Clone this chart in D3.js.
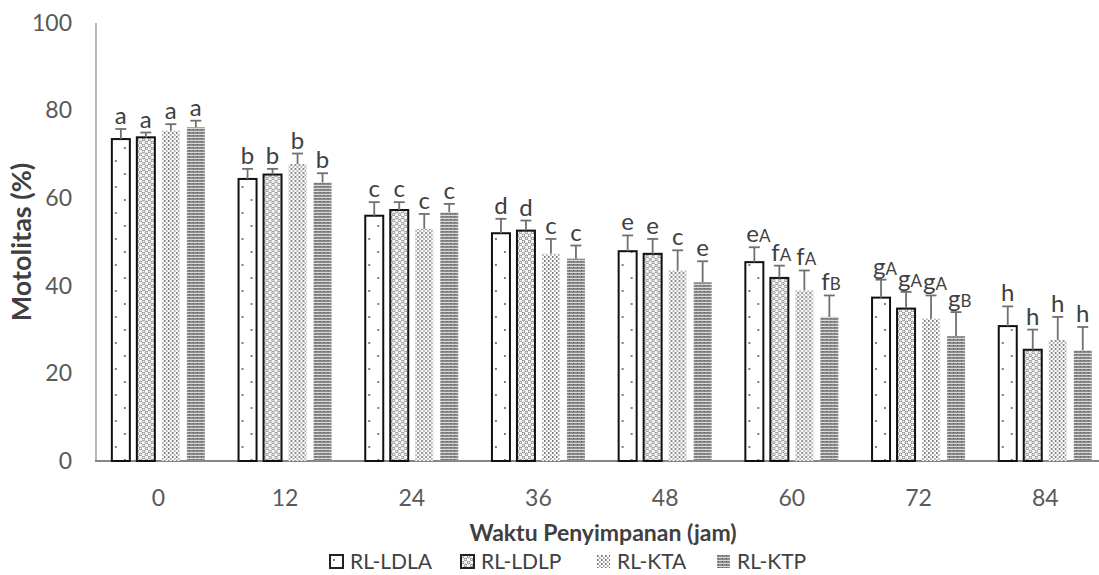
<!DOCTYPE html>
<html><head><meta charset="utf-8">
<script src="https://cdn.jsdelivr.net/npm/d3@7"></script>
<style>
html,body{margin:0;padding:0;background:#fff;}
svg{display:block;font-family:Lato,"Open Sans",sans-serif;}
</style></head>
<body><svg id="c" width="1099" height="575"></svg>
<script>
const categories = ["0","12","24","36","48","60","72","84"];
const seriesNames = ["RL-LDLA","RL-LDLP","RL-KTA","RL-KTP"];
const ldla = [73.5,64.4,56.0,52.0,47.9,45.4,37.3,30.8];
const ldlp = [73.9,65.4,57.3,52.6,47.3,41.8,34.8,25.4];
const kta  = [75.4,67.8,53.0,47.3,43.5,39.0,32.5,27.6];
const ktp  = [76.2,63.6,56.8,46.2,40.8,32.9,28.5,25.3];
const ldlaErr = [2.3,2.3,3.1,3.3,3.6,3.4,4.1,4.5];
const ldlpErr = [1.1,1.3,1.8,2.3,3.4,2.8,3.8,4.6];
const ktaErr  = [1.5,2.4,3.4,3.4,4.6,4.5,5.3,5.3];
const ktpErr  = [1.5,2.1,1.9,3.0,4.8,4.9,5.5,5.3];
const ldlaLbl = ["a","b","c","d","e","e|A","g|A","h"];
const ldlpLbl = ["a","b","c","d","e","f|A","g|A","h"];
const ktaLbl  = ["a","b","c","c","c","f|A","g|A","h"];
const ktpLbl  = ["a","b","c","c","e","f|B","g|B","h"];
const yTicks = [0,20,40,60,80,100];

const values = [ldla, ldlp, kta, ktp];
const errs = [ldlaErr, ldlpErr, ktaErr, ktpErr];
const lbls = [ldlaLbl, ldlpLbl, ktaLbl, ktpLbl];

const svg = d3.select("#c");
const defs = svg.append("defs");

// patterns
const p1 = defs.append("pattern").attr("id","pLDLA").attr("patternUnits","userSpaceOnUse").attr("width",18).attr("height",26);
p1.append("rect").attr("width",18).attr("height",26).attr("fill","#fff");
p1.append("circle").attr("cx",4).attr("cy",5).attr("r",0.9).attr("fill","#444");
p1.append("circle").attr("cx",13).attr("cy",18).attr("r",0.9).attr("fill","#444");

const p2 = defs.append("pattern").attr("id","pLDLP").attr("patternUnits","userSpaceOnUse").attr("width",6).attr("height",6);
p2.append("rect").attr("width",6).attr("height",6).attr("fill","#fff");
p2.append("circle").attr("cx",1.5).attr("cy",1.5).attr("r",1.3).attr("fill","none").attr("stroke","#555").attr("stroke-width",0.8);
p2.append("circle").attr("cx",4.5).attr("cy",4.5).attr("r",1.3).attr("fill","none").attr("stroke","#555").attr("stroke-width",0.8);

const p3 = defs.append("pattern").attr("id","pKTA").attr("patternUnits","userSpaceOnUse").attr("width",4).attr("height",4);
p3.append("rect").attr("width",4).attr("height",4).attr("fill","#fff");
p3.append("rect").attr("x",0).attr("y",0).attr("width",1.6).attr("height",2).attr("fill","#777");
p3.append("rect").attr("x",2).attr("y",2).attr("width",1.6).attr("height",2).attr("fill","#aaa");

const p4 = defs.append("pattern").attr("id","pKTP").attr("patternUnits","userSpaceOnUse").attr("width",4).attr("height",3);
p4.append("rect").attr("width",4).attr("height",3).attr("fill","#8c8c8c");
p4.append("rect").attr("x",0).attr("y",2).attr("width",4).attr("height",1).attr("fill","#d9d9d9");
p4.append("rect").attr("x",1).attr("y",0).attr("width",1).attr("height",1).attr("fill","#555");

const fills = ["url(#pLDLA)","url(#pLDLP)","url(#pKTA)","url(#pKTP)"];
const strokes = ["#111","#111","none","none"];

const x0 = d3.scaleBand().domain(categories).range([95, 95+8*126.7]).paddingInner(0.266).paddingOuter(0.133);
const x1 = d3.scaleBand().domain(seriesNames).range([0, x0.bandwidth()]).paddingInner(0.28).paddingOuter(0);
const y = d3.scaleLinear().domain([0,100]).range([461,23]);

// axes
const yAxis = svg.append("g").attr("transform","translate(96,0)").call(d3.axisLeft(y).tickValues(yTicks).tickSize(0).tickPadding(24));
yAxis.select(".domain").attr("stroke","#868686").attr("stroke-width",1.2).attr("d","M0,23V461");
yAxis.selectAll("text").attr("font-size",23).attr("fill","#595959").attr("font-family","Lato, sans-serif");

const xAxis = svg.append("g").attr("transform","translate(0,461)").call(d3.axisBottom(x0).tickSize(0));
xAxis.select(".domain").attr("stroke","#868686").attr("stroke-width",2).attr("d","M95,0H1099");
xAxis.selectAll("text").attr("font-size",23).attr("fill","#595959").attr("font-family","Lato, sans-serif")
  .attr("y",45).attr("dy",null);

// bars
const groups = svg.append("g").selectAll("g").data(categories).join("g")
  .attr("transform", d => `translate(${x0(d)},0)`);

seriesNames.forEach((s, si) => {
  groups.append("rect")
    .attr("x", x1(s))
    .attr("y", (d,i) => y(values[si][i]))
    .attr("width", x1.bandwidth())
    .attr("height", (d,i) => y(0) - y(values[si][i]))
    .attr("fill", fills[si])
    .attr("stroke", strokes[si])
    .attr("stroke-width", 2);
  groups.append("line")
    .attr("x1", x1(s)+x1.bandwidth()/2).attr("x2", x1(s)+x1.bandwidth()/2)
    .attr("y1", (d,i) => y(values[si][i]))
    .attr("y2", (d,i) => y(values[si][i]+errs[si][i]))
    .attr("stroke","#707070").attr("stroke-width",1.8);
  groups.append("line")
    .attr("x1", x1(s)+x1.bandwidth()/2-5.5).attr("x2", x1(s)+x1.bandwidth()/2+5.5)
    .attr("y1", (d,i) => y(values[si][i]+errs[si][i]))
    .attr("y2", (d,i) => y(values[si][i]+errs[si][i]))
    .attr("stroke","#707070").attr("stroke-width",1.8);
  groups.each(function(d,i){
    const parts = lbls[si][i].split("|");
    const cx = x1(s)+x1.bandwidth()/2;
    const t = d3.select(this).append("text")
      .attr("y", y(values[si][i]+errs[si][i]) - 5)
      .attr("fill","#404040").attr("font-size",24);
    if (parts.length === 1) {
      t.attr("x", cx).attr("text-anchor","middle").text(parts[0]);
    } else {
      t.attr("x", cx-8).attr("text-anchor","start");
      t.append("tspan").text(parts[0]);
      t.append("tspan").attr("font-size",17).text(parts[1]);
    }
  });
});

// axis titles
svg.append("text").attr("x",603).attr("y",541).attr("text-anchor","middle")
  .attr("font-size",23).attr("font-weight","bold").attr("fill","#404040").text("Waktu Penyimpanan (jam)");
svg.append("text").attr("transform","translate(31,242) rotate(-90)").attr("text-anchor","middle")
  .attr("font-size",27).attr("font-weight","bold").attr("fill","#404040").text("Motolitas (%)");

// legend
const legX = [330, 461, 597, 717];
const leg = svg.append("g").selectAll("g").data(seriesNames).join("g")
  .attr("transform",(d,i)=>`translate(${legX[i]},555)`);
leg.append("rect").attr("width",13).attr("height",13)
  .attr("fill",(d,i)=>fills[i]).attr("stroke",(d,i)=>i<2?"#222":"none").attr("stroke-width",2);
leg.append("text").attr("x",20).attr("y",13.5).attr("font-size",21).attr("fill","#404040").text(d=>d);
</script></body></html>
